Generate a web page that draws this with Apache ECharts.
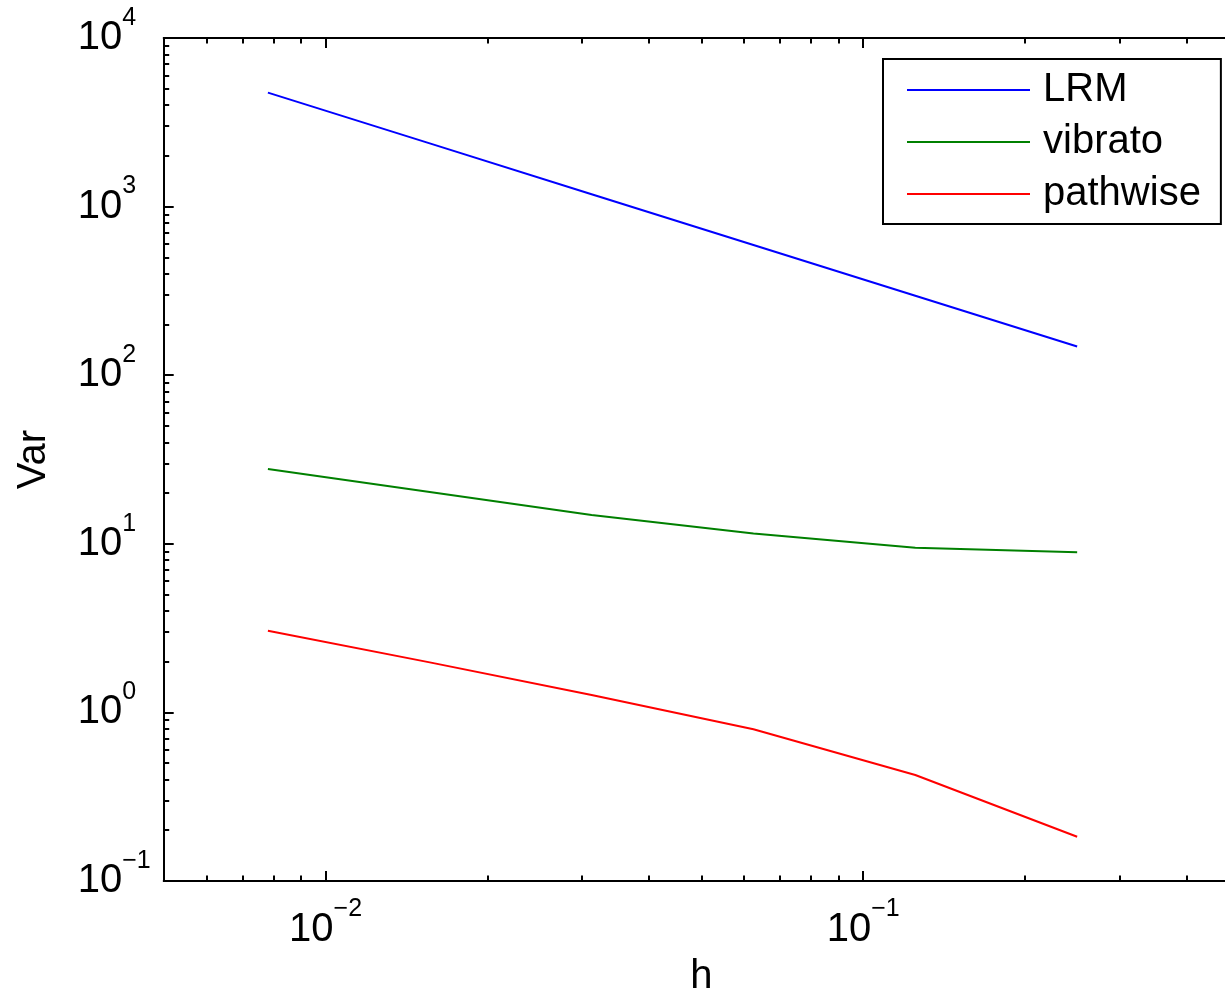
<!DOCTYPE html>
<html>
<head>
<meta charset="utf-8">
<script src="https://cdn.jsdelivr.net/npm/echarts@6/dist/echarts.min.js"></script>
<style>
  html, body { margin: 0; padding: 0; background: #fff; }
  #chart { width: 1225px; height: 994px; }
</style>
</head>
<body>
<div id="chart"></div>
<script>
// step sizes h (x axis, log)
var hValues = [1 / 128, 1 / 64, 1 / 32, 1 / 16, 1 / 8, 1 / 4]
// variances
var lrmVar = [4740, 2370, 1185, 592, 296, 148]
var vibratoVar = [27.8, 20.3, 14.8, 11.5, 9.48, 8.9]
var pathwiseVar = [3.05, 1.98, 1.27, 0.794, 0.425, 0.183]
// decade exponents for the tick labels
var xExponents = [-2, -1]
var yExponents = [-1, 0, 1, 2, 3, 4]
var xRange = [0.005, 0.5]
var yRange = [0.1, 10000]

var FONT = 'Liberation Sans'

// minor ticks at 2..9 x 10^n, in log space
function minorTicks (lo, hi) {
  var out = []
  for (var e = Math.floor(Math.log10(lo)); e <= Math.ceil(Math.log10(hi)); e++) {
    for (var k = 2; k <= 9; k++) {
      var v = k * Math.pow(10, e)
      if (v > lo * 1.0001 && v < hi * 0.9999) out.push(Math.log10(v))
    }
  }
  return out
}

function toPoints (ys) {
  return ys.map(function (y, i) { return [Math.log10(hValues[i]), Math.log10(y)] })
}

function powLabel (v) {
  var e = String(Math.round(v)).replace('-', '\u2212')
  return '{b|10}{s|' + e + '}'
}

var richPow = {
  b: { fontSize: 40, fontFamily: FONT, color: '#000' },
  s: { fontSize: 25, fontFamily: FONT, color: '#000', padding: [0, 0, 40, 0] }
}

function makeAxis (dim, opts) {
  var lo = Math.log10(dim === 'x' ? xRange[0] : yRange[0])
  var hi = Math.log10(dim === 'x' ? xRange[1] : yRange[1])
  var ax = {
    type: 'value',
    min: lo,
    max: hi,
    position: opts.position,
    axisLine: { show: !!opts.line, onZero: false, lineStyle: { color: '#000', width: 2 } },
    axisTick: {
      show: true,
      inside: true,
      length: opts.minor ? 5.5 : 10,
      customValues: opts.ticks,
      lineStyle: { color: '#000', width: 2 }
    },
    axisLabel: { show: false },
    splitLine: { show: false },
    minorTick: { show: false },
    minorSplitLine: { show: false }
  }
  if (opts.labels) {
    ax.axisLabel = {
      show: true,
      customValues: opts.labels,
      formatter: powLabel,
      rich: richPow,
      margin: opts.margin,
      align: opts.align,
      verticalAlign: 'middle'
    }
  }
  if (opts.name) {
    ax.name = opts.name
    ax.nameLocation = 'middle'
    ax.nameGap = opts.nameGap
    ax.nameRotate = opts.nameRotate
    ax.nameTextStyle = { fontSize: 40, fontFamily: FONT, color: '#000' }
  }
  return ax
}

var chart = echarts.init(document.getElementById('chart'))

var xMinor = minorTicks(xRange[0], xRange[1])
var yMinor = minorTicks(yRange[0], yRange[1])

var option = {
  animation: false,
  backgroundColor: '#fff',
  textStyle: { fontFamily: FONT },
  // right edge of the box falls just outside the picture
  grid: {
    left: 163.7,
    top: 38,
    width: 1075.3,
    height: 843,
    containLabel: false,
    outerBoundsMode: 'none'
  },
  legend: {
    orient: 'vertical',
    left: 883,
    top: 59,
    padding: [9, 20, 8, 24],
    itemGap: 8,
    itemWidth: 123,
    itemHeight: 2,
    icon: 'rect',
    borderColor: '#000',
    borderWidth: 2,
    backgroundColor: '#fff',
    textStyle: { fontSize: 40, lineHeight: 44, fontFamily: FONT, color: '#000', padding: [0, 0, 0, 8] },
    data: ['LRM', 'vibrato', 'pathwise']
  },
  xAxis: [
    makeAxis('x', { position: 'bottom', line: true, ticks: xExponents, labels: xExponents, margin: 48.5, align: 'center', name: 'h', nameGap: 76 }),
    makeAxis('x', { position: 'bottom', minor: true, ticks: xMinor }),
    makeAxis('x', { position: 'top', line: true, ticks: xExponents }),
    makeAxis('x', { position: 'top', minor: true, ticks: xMinor })
  ],
  yAxis: [
    makeAxis('y', { position: 'left', line: true, ticks: yExponents, labels: yExponents, margin: 86, align: 'left', name: 'Var', nameGap: 110, nameRotate: 90 }),
    makeAxis('y', { position: 'left', minor: true, ticks: yMinor })
  ],
  series: [
    {
      name: 'LRM',
      type: 'line',
      data: toPoints(lrmVar),
      showSymbol: false,
      lineStyle: { color: '#0000ff', width: 2 },
      itemStyle: { color: '#0000ff' }
    },
    {
      name: 'vibrato',
      type: 'line',
      data: toPoints(vibratoVar),
      showSymbol: false,
      lineStyle: { color: '#008000', width: 2 },
      itemStyle: { color: '#008000' }
    },
    {
      name: 'pathwise',
      type: 'line',
      data: toPoints(pathwiseVar),
      showSymbol: false,
      lineStyle: { color: '#ff0000', width: 2 },
      itemStyle: { color: '#ff0000' }
    }
  ]
}

chart.setOption(option)
</script>
</body>
</html>
